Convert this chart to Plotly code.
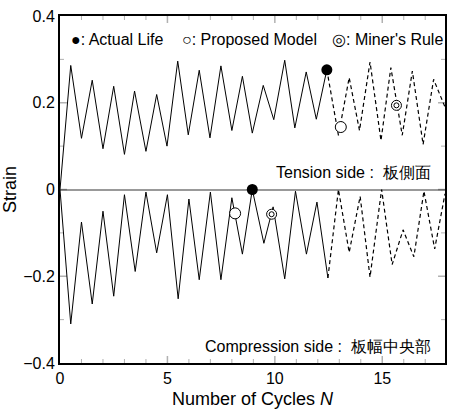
import plotly.graph_objects as go
import numpy as np

# Tension side (top) – measured peaks/troughs
ten_x_solid = [0, 0.5, 1.0, 1.5, 2.0, 2.5, 3.0, 3.47, 4.0, 4.5, 4.98, 5.48, 5.97, 6.48, 6.98, 7.49,
               8.0, 8.49, 8.95, 9.46, 9.95, 10.46, 10.93, 11.46, 11.93, 12.42]
ten_y_solid = [0, 0.286, 0.118, 0.252, 0.094, 0.238, 0.081, 0.227, 0.088, 0.219, 0.100, 0.296, 0.126,
               0.275, 0.119, 0.285, 0.136, 0.261, 0.130, 0.240, 0.161, 0.298, 0.142, 0.271, 0.162, 0.276]
ten_x_dash = [12.42, 12.96, 13.46, 13.94, 14.43, 14.94, 15.4, 15.93, 16.4, 16.9, 17.39, 17.92]
ten_y_dash = [0.276, 0.125, 0.258, 0.136, 0.294, 0.113, 0.281, 0.125, 0.273, 0.104, 0.254, 0.19]

# Compression side (bottom)
com_x_solid = [0, 0.5, 1.0, 1.5, 2.0, 2.5, 3.0, 3.5, 4.0, 4.5, 5.0, 5.5, 6.0, 6.48, 7.0, 7.49,
               8.0, 8.49, 8.95, 9.49, 9.92, 10.46, 10.96, 11.47, 11.96, 12.47]
com_y_solid = [0, -0.310, -0.075, -0.264, -0.050, -0.246, -0.012, -0.189, -0.006, -0.146, -0.012,
               -0.252, -0.022, -0.208, -0.006, -0.208, -0.019, -0.149, 0.0, -0.124, -0.040, -0.206,
               -0.004, -0.149, -0.029, -0.204]
com_x_dash = [12.47, 12.96, 13.46, 13.97, 14.43, 14.97, 15.46, 15.97, 16.47, 16.94, 17.44, 17.92]
com_y_dash = [-0.204, 0.0, -0.145, -0.016, -0.202, 0.0, -0.173, -0.093, -0.155, -0.004, -0.137, -0.01]

# Life markers
actual_x = [12.42, 8.95]
actual_y = [0.276, 0.0]
proposed_x = [13.07, 8.15]
proposed_y = [0.144, -0.055]
miner_x = [15.66, 9.85]
miner_y = [0.194, -0.057]

x_range = [0, 17.92]
y_range = [-0.4, 0.4]
x_major = [0, 5, 10, 15]
x_minor = [1, 2, 3, 4, 6, 7, 8, 9, 11, 12, 13, 14, 16, 17]
y_major = [-0.4, -0.2, 0, 0.2, 0.4]
y_minor = [-0.3, -0.1, 0.1, 0.3]

FONT = "Liberation Sans, Arial, sans-serif"
W, H = 449, 414
ML, MR, MT, MB = 60, 2, 16, 51
PW, PH = W - ML - MR, H - MT - MB

fig = go.Figure()
solid = dict(color="black", width=1)
dashed = dict(color="black", width=1.2, dash="4px,3px")
fig.add_trace(go.Scatter(x=ten_x_solid, y=ten_y_solid, mode="lines", line=solid))
fig.add_trace(go.Scatter(x=ten_x_dash, y=ten_y_dash, mode="lines", line=dashed))
fig.add_trace(go.Scatter(x=com_x_solid, y=com_y_solid, mode="lines", line=solid))
fig.add_trace(go.Scatter(x=com_x_dash, y=com_y_dash, mode="lines", line=dashed))

fig.add_trace(go.Scatter(x=actual_x, y=actual_y, mode="markers",
                         marker=dict(symbol="circle", size=11, color="black")))
fig.add_trace(go.Scatter(x=proposed_x, y=proposed_y, mode="markers",
                         marker=dict(symbol="circle", size=11, color="white",
                                     line=dict(color="black", width=1))))
fig.add_trace(go.Scatter(x=miner_x, y=miner_y, mode="markers",
                         marker=dict(symbol="circle", size=10, color="white",
                                     line=dict(color="black", width=1))))
fig.add_trace(go.Scatter(x=miner_x, y=miner_y, mode="markers",
                         marker=dict(symbol="circle", size=5, color="white",
                                     line=dict(color="black", width=1))))

# inward tick marks on all four sides (tick values placed through the axes' own scales)
def add_xticks(vals, length_px, width):
    f = length_px / PH
    for v in vals:
        for y0, y1 in [(0, f), (1, 1 - f)]:
            fig.add_shape(type="line", xref="x", yref="y domain", x0=v, x1=v, y0=y0, y1=y1,
                          line=dict(color="black", width=width), layer="above")

def add_yticks(vals, length_px, width):
    f = length_px / PW
    for v in vals:
        for x0, x1 in [(0, f), (1, 1 - f)]:
            fig.add_shape(type="line", xref="x domain", yref="y", x0=x0, x1=x1, y0=v, y1=v,
                          line=dict(color="black", width=width), layer="above")

add_xticks(x_major[1:], 7, 1.5)
add_xticks(x_minor, 4, 1)
add_yticks(y_major[1:-1], 7, 1.5)
add_yticks(y_minor, 4, 1)

ann_font = dict(family=FONT, size=16, color="black")
for txt, x in [("\u25CF: Actual Life", 0.42), ("\u25CB: Proposed Model", 5.6), ("\u25CE: Miner's Rule", 12.55)]:
    fig.add_annotation(x=x, y=0.345, text=txt, showarrow=False, xanchor="left", yanchor="middle",
                       font=ann_font)
fig.add_annotation(x=17.38, y=0.04, text="Tension side :\u00a0\u00a0板側面", showarrow=False,
                   xanchor="right", yanchor="middle", font=ann_font)
fig.add_annotation(x=17.38, y=-0.362, text="Compression side :\u00a0\u00a0板幅中央部", showarrow=False,
                   xanchor="right", yanchor="middle", font=ann_font)

fig.update_layout(
    template="simple_white",
    width=W, height=H,
    margin=dict(l=ML, r=MR, t=MT, b=MB),
    paper_bgcolor="white", plot_bgcolor="white",
    showlegend=False,
    font=dict(family=FONT, size=16, color="black"),
    xaxis=dict(
        range=x_range, tickmode="array", tickvals=x_major, ticks="",
        showline=True, linecolor="black", linewidth=2, mirror=True, showgrid=False, zeroline=False,
        title=dict(text="Number of Cycles <i>N</i>", font=dict(size=18), standoff=6),
        tickfont=dict(size=16),
    ),
    yaxis=dict(
        range=y_range, tickmode="array", tickvals=y_major, tickformat="~g", ticks="",
        showline=True, linecolor="black", linewidth=2, mirror=True, showgrid=False,
        zeroline=True, zerolinecolor="#999999", zerolinewidth=1.5,
        title=dict(text="Strain", font=dict(size=18), standoff=4),
        tickfont=dict(size=16),
    ),
)

fig.write_html("out.html")
